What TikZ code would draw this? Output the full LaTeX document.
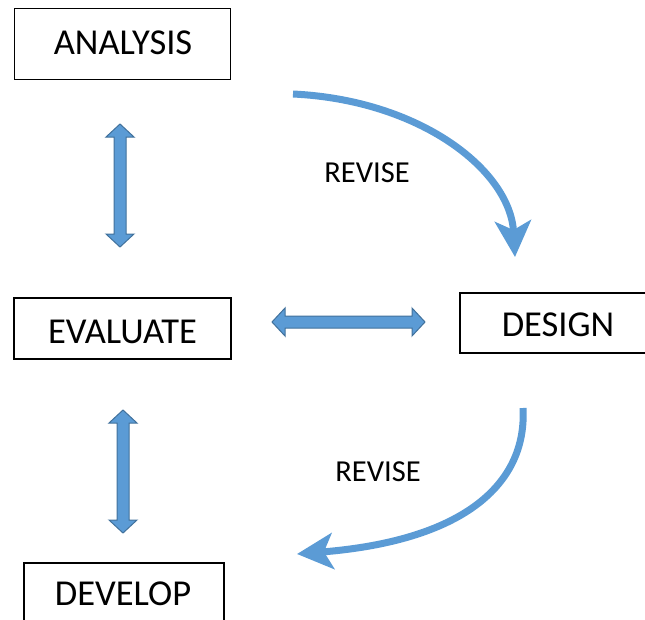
\documentclass[tikz,border=0pt]{standalone}
\usepackage{fontspec}
\setmainfont{Carlito}
\usetikzlibrary{arrows.meta}
\definecolor{flowblue}{HTML}{5B9BD5}
\definecolor{flowedge}{HTML}{41719C}
\tikzset{
  stagebox/.style={draw=black, line width=1.6pt, fill=white, inner sep=0pt},
  stagetext/.style={inner sep=0pt, font=\fontsize{36.5}{44}\selectfont},
  revisetext/.style={inner sep=0pt, font=\fontsize{30.5}{37}\selectfont},
  revise/.style={draw=flowblue, line width=7pt,
    -{Stealth[length=36pt, width=36pt, inset=9pt]}},
  dblarrow/.pic={
    \path[fill=flowblue, draw=flowedge, line width=1pt, line join=miter]
      ({-#1/2},0) -- ({-#1/2+13},-14) -- ({-#1/2+13},-6)
      -- ({#1/2-13},-6) -- ({#1/2-13},-14) -- ({#1/2},0)
      -- ({#1/2-13},14) -- ({#1/2-13},6) -- ({-#1/2+13},6)
      -- ({-#1/2+13},14) -- cycle;
  }
}
\begin{document}
\begin{tikzpicture}[x=1pt, y=-1pt]
  \useasboundingbox (0,0) rectangle (645,619);
  \clip (0,0) rectangle (645,619);

  % stage boxes
  \node[stagebox, minimum width=216pt, minimum height=71pt] (analysis) at (122.5,44) {};
  \node[stagetext] (analysisT) at (123,42.5) {ANALYSIS};

  \node[stagebox, minimum width=217pt, minimum height=61pt] (evaluate) at (122.5,328.5) {};
  \node[stagetext] (evaluateT) at (122.5,332) {EVALUATE};

  \node[stagebox, minimum width=196pt, minimum height=60pt, anchor=north west] (design) at (459,292) {};
  \node[stagetext] (designT) at (558,324.5) {DESIGN};

  \node[stagebox, minimum width=200pt, minimum height=70pt, anchor=north west] (develop) at (23,562) {};
  \node[stagetext] (developT) at (123,594) {DEVELOP};

  % two-way links
  \pic (linkAE) at (120,185.5) [rotate=90] {dblarrow=123};
  \pic (linkED) at (348.5,322) {dblarrow=153};
  \pic (linkEV) at (123,471.5) [rotate=90] {dblarrow=123};

  % revision loops
  \coordinate (r1s) at (293,94);
  \coordinate (r1e) at (515,257);
  \draw[revise] (r1s) .. controls (420,100) and (510,170) .. (r1e);
  \node[revisetext] (revise1) at (367,172.5) {REVISE};

  \coordinate (r2s) at (523,408);
  \coordinate (r2e) at (297,554);
  \draw[revise] (r2s) .. controls (527,480) and (470,540) .. (r2e);
  \node[revisetext] (revise2) at (378,472) {REVISE};
\end{tikzpicture}
\end{document}
